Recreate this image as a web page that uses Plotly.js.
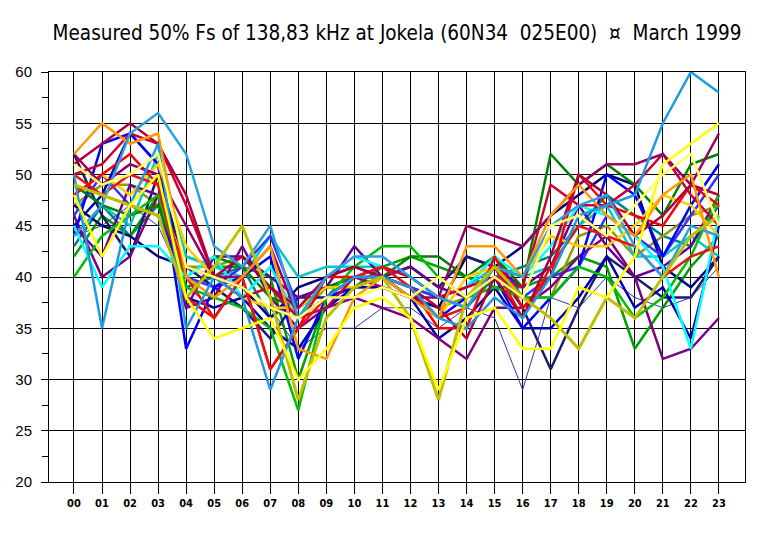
<!DOCTYPE html>
<html>
<head>
<meta charset="utf-8">
<script src="https://cdn.plot.ly/plotly-3.0.1.min.js"></script>
<style>html,body{margin:0;padding:0;background:#fff;}#chart{width:778px;height:536px;}</style>
</head>
<body>
<div id="chart"></div>
<script>
const hours = [0,1,2,3,4,5,6,7,8,9,10,11,12,13,14,15,16,17,18,19,20,21,22,23];
const hourLabels = ["00","01","02","03","04","05","06","07","08","09","10","11","12","13","14","15","16","17","18","19","20","21","22","23"];

const s01 = [44, 47, 54, 56, 52, 43, 41, 45, 36, 40, 42, 42, 40, 38, 37, 41, 40, 45, 47, 48, 43, 40, 45, 44];
const s02 = [50, 35, 47, 53, 35, 40, 38, 29, 36, 38, 40, 40, 39, 36, 35, 38, 36, 40, 46, 47, 48, 55, 60, 58];
const s03 = [52, 55, 53, 54, 40, 38, 40, 43, 33, 32, 38, 40, 38, 36, 43, 43, 40, 46, 49, 46, 44, 48, 50, 40];
const s04 = [51, 53, 55, 53, 48, 40, 42, 39, 37, 40, 41, 40, 39, 37, 34, 40, 36, 42, 50, 48, 44, 46, 49, 48];
const s05 = [44, 53, 54, 51, 33, 39, 40, 42, 32, 38, 39, 40, 38, 36, 38, 40, 35, 38, 41, 50, 48, 42, 47, 51];
const s06 = [47, 45, 44, 42, 41, 40, 39, 36, 39, 40, 41, 40, 38, 37, 42, 41, 43, 46, 48, 50, 49, 41, 39, 42];
const s07 = [49, 47, 46, 47, 40, 42, 41, 38, 37, 39, 40, 40, 42, 42, 40, 42, 39, 52, 49, 51, 49, 46, 51, 52];
const s08 = [40, 44, 46, 48, 39, 38, 37, 35, 27, 38, 41, 43, 43, 40, 38, 39, 38, 38, 41, 40, 36, 38, 42, 48];
const s09 = [49, 48, 47, 46, 38, 41, 45, 38, 28, 36, 39, 40, 36, 28, 38, 41, 38, 36, 33, 38, 36, 40, 44, 46];
const s10 = [48, 42, 47, 50, 38, 34, 35, 36, 30, 33, 37, 38, 36, 29, 36, 37, 33, 33, 39, 38, 42, 51, 53, 55];
const s11 = [45, 39, 43, 43, 40, 42, 38, 41, 36, 40, 42, 41, 40, 38, 39, 42, 40, 43, 47, 46, 44, 41, 33, 46];
const s12 = [46, 40, 42, 48, 37, 38, 43, 38, 35, 37, 38, 37, 36, 34, 32, 37, 37, 39, 42, 44, 40, 32, 33, 36];
const s13 = [52, 49, 51, 50, 45, 40, 40, 43, 36, 38, 40, 39, 38, 38, 45, 44, 43, 46, 49, 51, 51, 52, 49, 54];
const s14 = [48, 50, 52, 49, 38, 36, 40, 31, 35, 40, 40, 40, 39, 35, 35, 42, 37, 40, 50, 47, 46, 45, 49, 47];
const s15 = [43, 47, 44, 47, 39, 40, 41, 36, 38, 39, 39, 40, 39, 38, 37, 40, 41, 42, 45, 48, 46, 44, 43, 47];
const s16 = [45, 48, 54, 51, 38, 37, 38, 35, 33, 37, 39, 39, 38, 34, 36, 39, 35, 35, 38, 42, 37, 39, 34, 45];
const s17 = [52, 46, 42, 50, 41, 39, 37, 34, 38, 38, 39, 40, 41, 39, 42, 41, 37, 31, 37, 42, 40, 38, 38, 42];
const s18 = [44, 45, 47, 45, 39, 37, 38, 37, 33, 35, 35, 37, 37, 35, 37, 36, 29, 38, 37, 40, 38, 37, 38, 41];
const s19 = [42, 46, 44, 48, 42, 41, 41, 40, 30, 38, 39, 41, 42, 41, 40, 39, 39, 40, 42, 41, 33, 37, 41, 44];
const s20 = [51, 49, 50, 52, 41, 40, 39, 37, 36, 38, 38, 39, 38, 40, 38, 40, 38, 45, 46, 44, 47, 50, 52, 45];
const s21 = [50, 51, 54, 53, 47, 40, 38, 39, 36, 37, 40, 41, 40, 38, 39, 40, 39, 49, 47, 47, 49, 52, 48, 45];
const s22 = [46, 50, 47, 46, 40, 39, 41, 44, 37, 39, 40, 40, 39, 38, 39, 42, 38, 40, 41, 46, 44, 42, 46, 50];
const s23 = [47, 49, 49, 47, 41, 41, 42, 39, 36, 39, 39, 39, 38, 37, 38, 39, 38, 38, 44, 45, 42, 44, 46, 47];
const s24 = [48, 50, 48, 51, 43, 40, 38, 37, 37, 39, 39, 40, 39, 36, 40, 41, 40, 44, 43, 43, 45, 48, 47, 44];
const s25 = [49, 47, 45, 52, 42, 41, 40, 44, 40, 41, 41, 41, 40, 38, 39, 41, 40, 41, 45, 47, 42, 42, 44, 42];
const s26 = [45, 42, 49, 48, 37, 42, 42, 40, 38, 39, 43, 40, 41, 39, 38, 41, 39, 41, 47, 43, 40, 41, 43, 48];
const s27 = [50, 48, 50, 49, 40, 36, 40, 31, 35, 38, 40, 41, 39, 36, 37, 41, 36, 41, 45, 44, 43, 40, 42, 43];

const seriesList = [s15, s19, s23, s25, s06, s17, s18, s22, s26, s16, s12, s05, s07, s08, s11, s24, s14, s21, s27, s13, s04, s03, s01, s02, s09, s10, s20];
const colorList = ["#008080", "#00a000", "#999900", "#00cccc", "#000080", "#1a1a70", "#3333aa", "#3333ff", "#660099", "#0000aa", "#800080", "#0000ff", "#008000", "#00c000", "#00ffff", "#ffcc00", "#ff0000", "#cc0033", "#ee1111", "#990066", "#b0003a", "#ff9900", "#2aa0e0", "#1e9be0", "#bfbf00", "#ffff00", "#ffff66"];
const widthList = [2.5, 2.5, 2.5, 2.5, 2.5, 2.5, 1, 2.5, 2.5, 2.5, 2.5, 2.5, 2.5, 2.5, 2.5, 2.5, 2.5, 2.5, 2.5, 2.5, 2.5, 2.5, 2.5, 2.5, 3, 2.5, 2.5];

const traces = seriesList.map((ys, i) => ({
  x: hours, y: ys, type: 'scatter', mode: 'lines',
  line: {color: colorList[i], width: widthList[i]},
  hoverinfo: 'skip', showlegend: false
}));

const layout = {
  width: 778, height: 536,
  margin: {l: 49, r: 33, t: 72, b: 54},
  paper_bgcolor: '#ffffff', plot_bgcolor: '#ffffff',
  title: {
    text: 'Measured 50% Fs of 138,83 kHz at Jokela (60N34  025E00)  \u00a4  March 1999',
    font: {family: 'Liberation Sans Narrow, Arial Narrow, DejaVu Sans Condensed, sans-serif', size: 20.5, color: '#000'},
    x: 0.5, xref: 'paper', xanchor: 'center',
    y: 1 - 33/536, yref: 'container', yanchor: 'middle'
  },
  xaxis: {
    type: 'linear', range: [-0.89, 23.93],
    tickmode: 'array', tickvals: hours, ticktext: hourLabels,
    showgrid: true, gridcolor: '#000', gridwidth: 1,
    showline: true, linecolor: '#000', linewidth: 1, mirror: true,
    ticks: 'outside', ticklen: 11, tickcolor: '#000', tickwidth: 1,
    tickfont: {family: 'Liberation Sans Narrow, Arial Narrow, DejaVu Sans Condensed, sans-serif', size: 11, color: '#000', weight: 'bold'},
    zeroline: false, fixedrange: true
  },
  yaxis: {
    range: [20, 60], tickmode: 'linear', tick0: 20, dtick: 5,
    showgrid: true, gridcolor: '#000', gridwidth: 1,
    showline: true, linecolor: '#000', linewidth: 1, mirror: true,
    ticks: 'outside', ticklen: 7, tickcolor: '#000', tickwidth: 1,
    tickfont: {family: 'Liberation Sans, Arial, sans-serif', size: 15, color: '#000'},
    ticklabelstandoff: 6,
    minor: {dtick: 2.5, ticks: 'outside', ticklen: 6, tickcolor: '#000', showgrid: false},
    zeroline: false, fixedrange: true
  }
};

Plotly.newPlot('chart', traces, layout, {staticPlot: true, displayModeBar: false});
</script>
</body>
</html>
